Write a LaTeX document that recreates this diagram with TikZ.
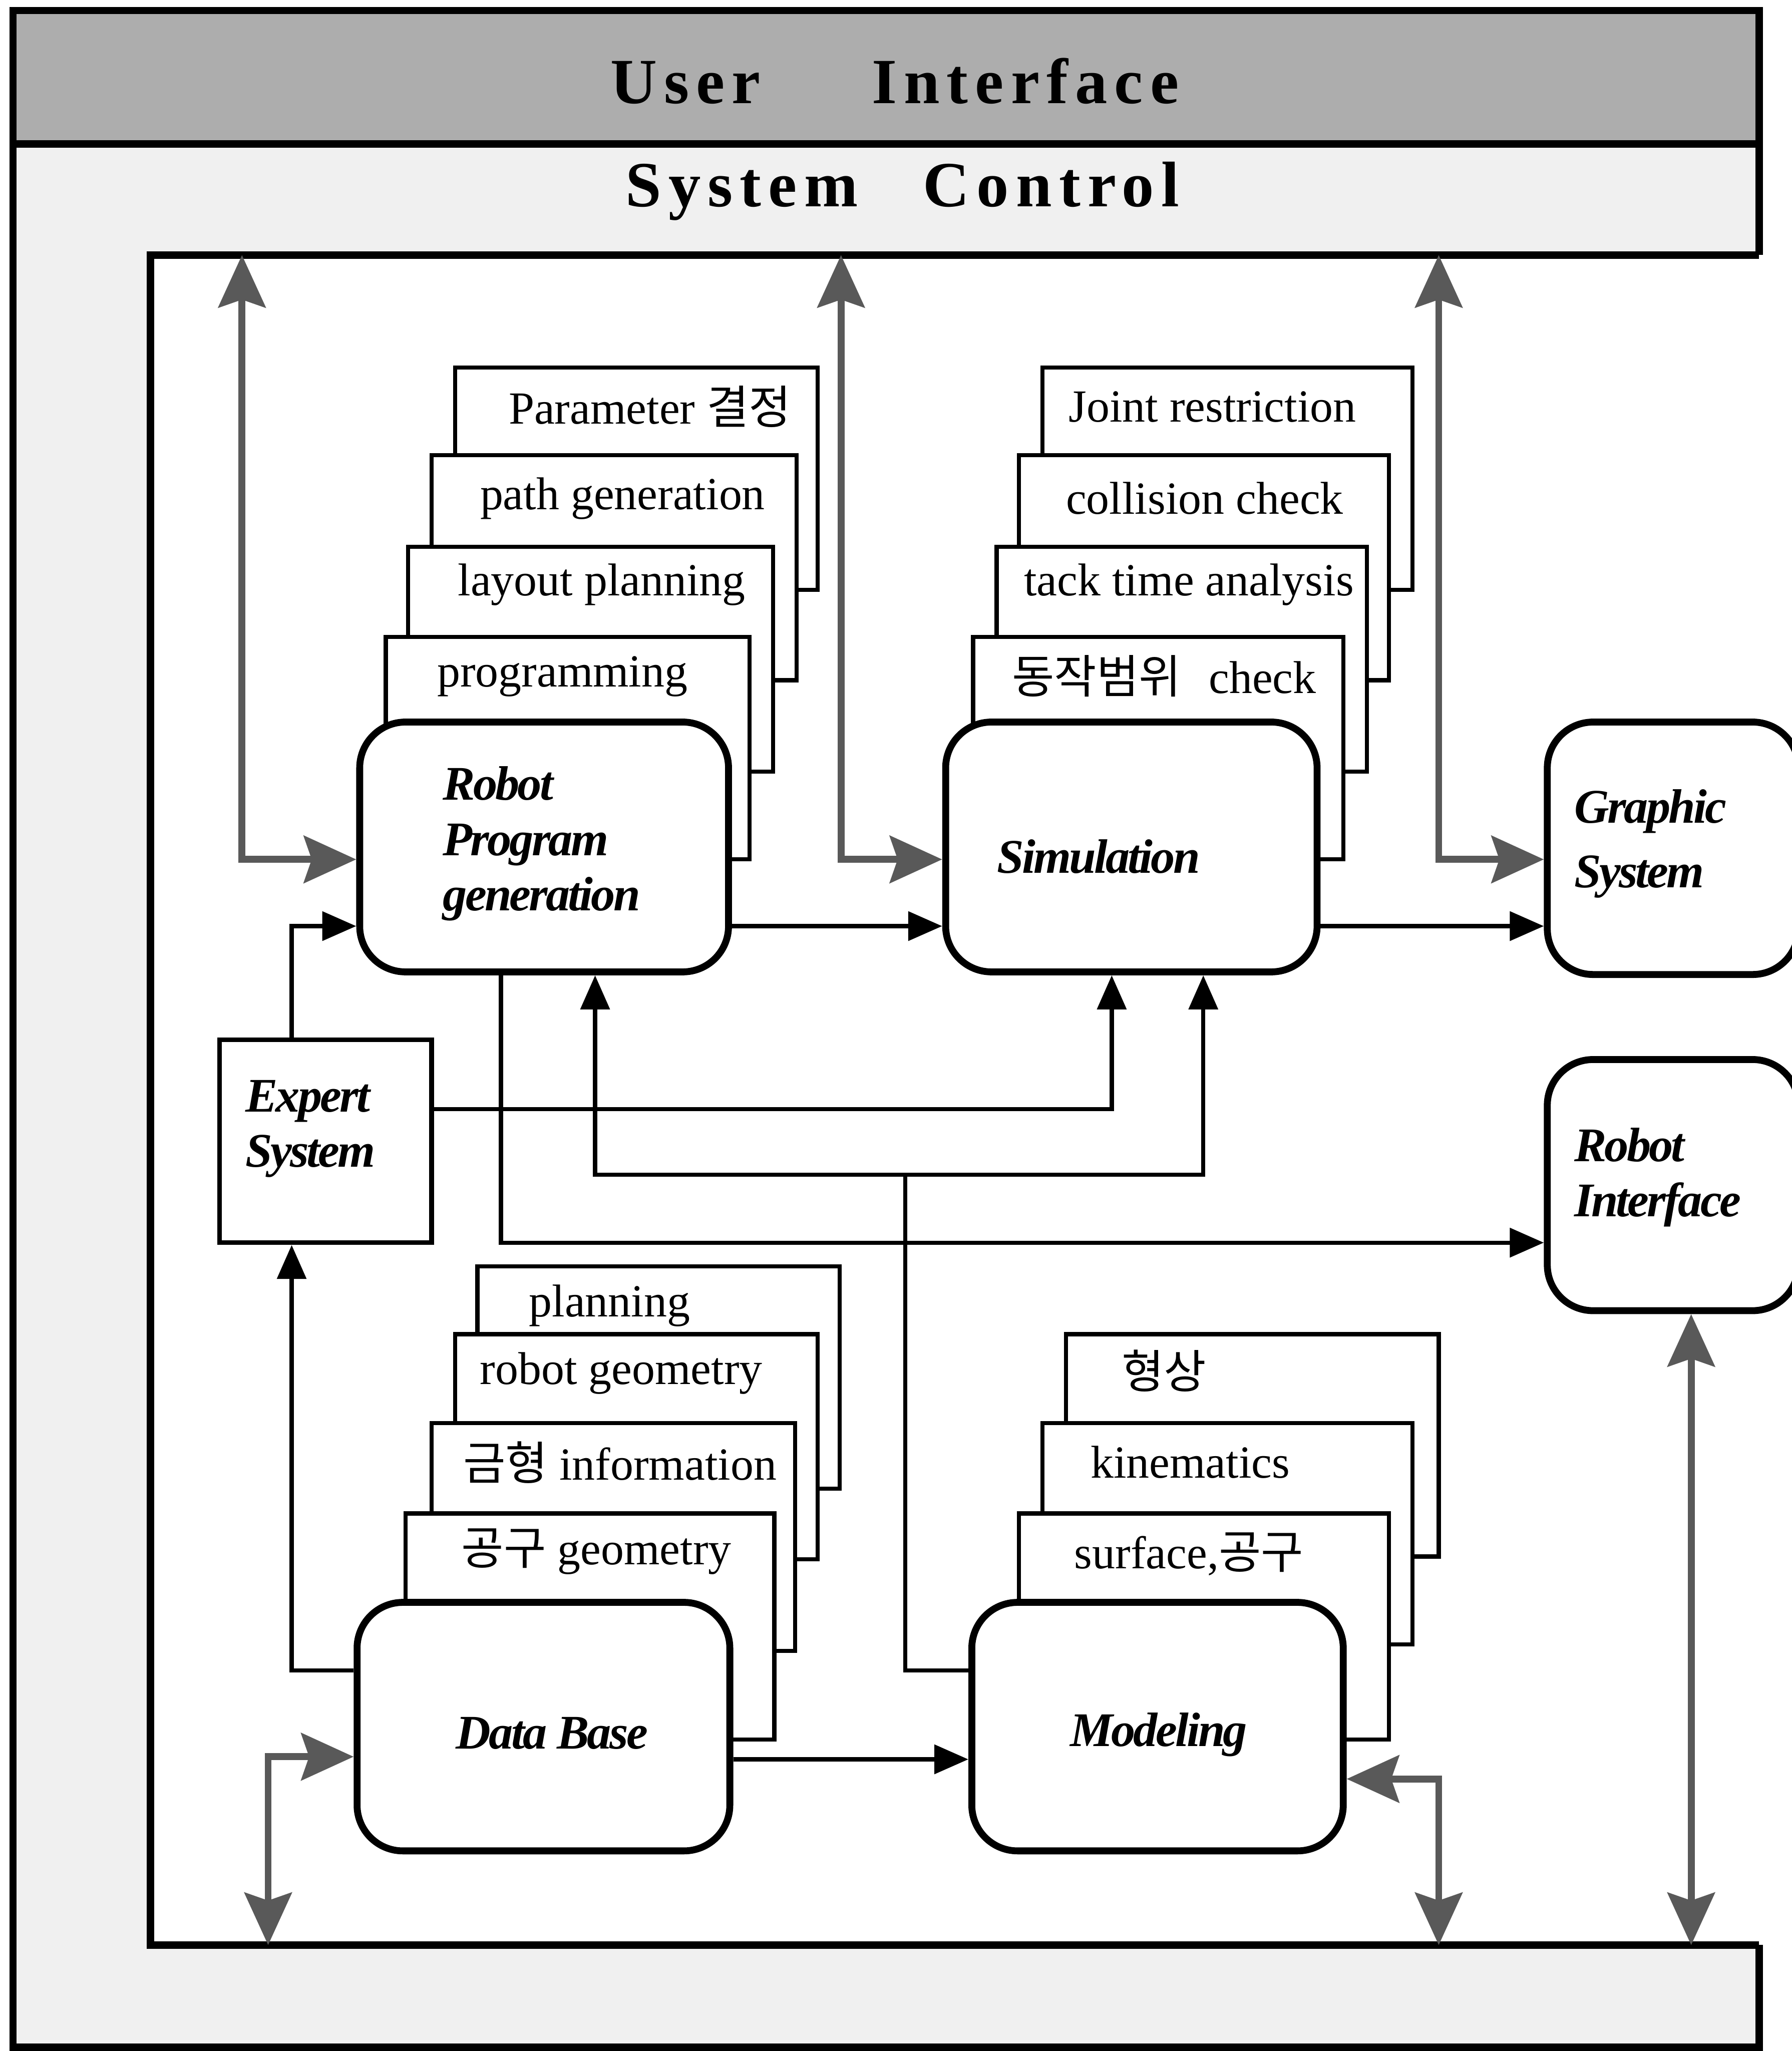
\documentclass[tikz,border=0pt]{standalone}
\usepackage{fontspec}
\usepackage{graphicx}
\setmainfont{Liberation Serif}
\newfontfamily\krfont{Noto Sans CJK KR}
\newfontfamily\ttlfont[LetterSpace=11]{Liberation Serif}
\newfontfamily\biffont[LetterSpace=-4]{Liberation Serif}
\usetikzlibrary{arrows.meta,fit}
\tikzset{
  card/.style={draw, line width=0.9pt, fill=white, inner sep=0pt},
  rbox/.style={draw, line width=1.5pt, fill=white, rounded corners=0.35cm, inner sep=0pt},
  sqbox/.style={draw, line width=1pt, fill=white, inner sep=0pt},
  lbl/.style={font=\fontsize{10}{12}\selectfont, inner sep=0pt},
  blbl/.style={font=\biffont\bfseries\itshape\fontsize{10.5}{12}\selectfont, inner sep=0pt, align=left},
  ttl/.style={font=\ttlfont\bfseries\fontsize{14}{16}\selectfont, inner sep=0pt},
  conn/.style={line width=0.9pt, -{Triangle[length=0.26cm,width=0.22cm]}},
  hconn/.style={line width=1.5pt, draw=black!65,
    {Stealth[length=0.4cm,width=0.36cm,inset=0.06cm]}-{Stealth[length=0.4cm,width=0.36cm,inset=0.06cm]}},
}
\begin{document}
\begin{tikzpicture}[x=0.01cm,y=-0.01cm]
\useasboundingbox (0,0) rectangle (1370,1568);
% ---------- frame ----------
\fill[black!6] (10,8) rectangle (1345,1565);
\fill[white] (115,195) rectangle (1400,1487);
\fill[black!32] (10,8) rectangle (1345,110);
\draw[line width=1.6pt] (1345,195) -- (1345,8) -- (10,8) -- (10,1565) -- (1345,1565) -- (1345,1487);
\draw[line width=1.6pt] (10,110) -- (1345,110);
\draw[line width=1.6pt] (1345,195) -- (115,195) -- (115,1487) -- (1345,1487);
\node[ttl] (ui) at (684,62) {User\hspace{0.85cm}Interface};
\node[ttl] (sc) at (690,146) {System\hspace{0.5cm}Control};

% ---------- Robot Program generation stack ----------
\node[card, fit={(348,281)(625,451)}] (rp1) {};
\node[card, fit={(330,348)(609,520)}] (rp2) {};
\node[card, fit={(312,418)(591,590)}] (rp3) {};
\node[card, fit={(295,487)(573,657)}] (rp4) {};
\node[rbox, fit={(275,552)(557,743)}] (rpg) {};
\node[lbl] (trp1) at (497,311) {Parameter {\krfont 결정}};
\node[lbl] (trp2) at (476,381) {path generation};
\node[lbl] (trp3) at (460,447) {layout planning};
\node[lbl] (trp4) at (430,517) {programming};
\node[blbl, anchor=west] (trpg) at (338,645) {Robot\\Program\\generation};

% ---------- Simulation stack ----------
\node[card, fit={(797,281)(1080,451)}] (sm1) {};
\node[card, fit={(779,348)(1062,520)}] (sm2) {};
\node[card, fit={(762,418)(1045,590)}] (sm3) {};
\node[card, fit={(744,487)(1027,657)}] (sm4) {};
\node[rbox, fit={(723,552)(1007,743)}] (sim) {};
\node[lbl] (tsm1) at (927,311) {Joint restriction};
\node[lbl] (tsm2) at (921,381) {collision check};
\node[lbl] (tsm3) at (909,447) {tack time analysis};
\node[lbl] (tsm4) at (890,517) {{\krfont 동작범위}\hspace{0.6em}check};
\node[blbl] (tsim) at (840,655) {Simulation};

% ---------- right boxes ----------
\node[rbox, fit={(1183,552)(1375,745)}] (gfx) {};
\node[blbl, anchor=west, font=\biffont\bfseries\itshape\fontsize{10.5}{14}\selectfont] (tgfx) at (1203,645) {Graphic\\System};
\node[rbox, fit={(1183,810)(1375,1002)}] (ri) {};
\node[blbl, anchor=west] (tri) at (1203,900) {Robot\\Interface};

% ---------- Expert System ----------
\node[sqbox, fit={(168,795)(330,950)}] (exp) {};
\node[blbl, anchor=west] (texp) at (187,863) {Expert\\System};

% ---------- Data Base stack ----------
\node[card, fit={(365,968)(642,1138)}] (db1) {};
\node[card, fit={(348,1020)(625,1192)}] (db2) {};
\node[card, fit={(330,1088)(608,1262)}] (db3) {};
\node[card, fit={(310,1157)(592,1330)}] (db4) {};
\node[rbox, fit={(273,1225)(558,1415)}] (db) {};
\node[lbl] (tdb1) at (466,998) {planning};
\node[lbl] (tdb2) at (475,1050) {robot geometry};
\node[lbl] (tdb3) at (474,1118) {{\krfont 금형} information};
\node[lbl] (tdb4) at (456,1186) {{\krfont 공구} geometry};
\node[blbl] (tdb) at (422,1325) {Data Base};

% ---------- Modeling stack ----------
\node[card, fit={(815,1020)(1100,1190)}] (md1) {};
\node[card, fit={(797,1088)(1080,1257)}] (md2) {};
\node[card, fit={(779,1157)(1062,1330)}] (md3) {};
\node[rbox, fit={(743,1225)(1027,1415)}] (mod) {};
\node[lbl] (tmd1) at (890,1048) {{\krfont 형상}};
\node[lbl] (tmd2) at (910,1118) {kinematics};
\node[lbl] (tmd3) at (909,1188) {surface,{\krfont 공구}};
\node[blbl] (tmod) at (886,1326) {Modeling};

% ---------- hatched (system control) connectors ----------
\coordinate (t1) at (185,195);
\coordinate (t2) at (643,195);
\coordinate (t3) at (1100,195);
\coordinate (b1) at (205,1487);
\coordinate (b2) at (1100,1487);
\coordinate (b3) at (1293,1487);
\draw[hconn] (t1) |- (rpg.west |- 0,657);
\draw[hconn] (t2) |- (sim.west |- 0,657);
\draw[hconn] (t3) |- (gfx.west |- 0,657);
\draw[hconn] (db.west |- 0,1343) -| (b1);
\draw[hconn] (mod.east |- 0,1360) -| (b2);
\draw[hconn] (ri.south -| 1293,0) -- (b3);

% ---------- data flow connectors ----------
\draw[conn] (rpg.east |- 0,708) -- (sim.west |- 0,708);
\draw[conn] (sim.east |- 0,708) -- (gfx.west |- 0,708);
\draw[conn] (exp.north -| 223,0) |- (rpg.west |- 0,708);
\draw[conn] (exp.east |- 0,848) -| (sim.south -| 850,0);
\coordinate (j1) at (692,898);
\draw[conn] (mod.west |- 0,1277) -| (j1) -| (rpg.south -| 455,0);
\draw[conn] (j1) -| (sim.south -| 920,0);
\draw[conn] (rpg.south -| 383,0) |- (ri.west |- 0,950);
\draw[conn] (db.west |- 0,1277) -| (exp.south -| 223,0);
\draw[conn] (db.east |- 0,1345) -- (mod.west |- 0,1345);
\end{tikzpicture}
\end{document}
